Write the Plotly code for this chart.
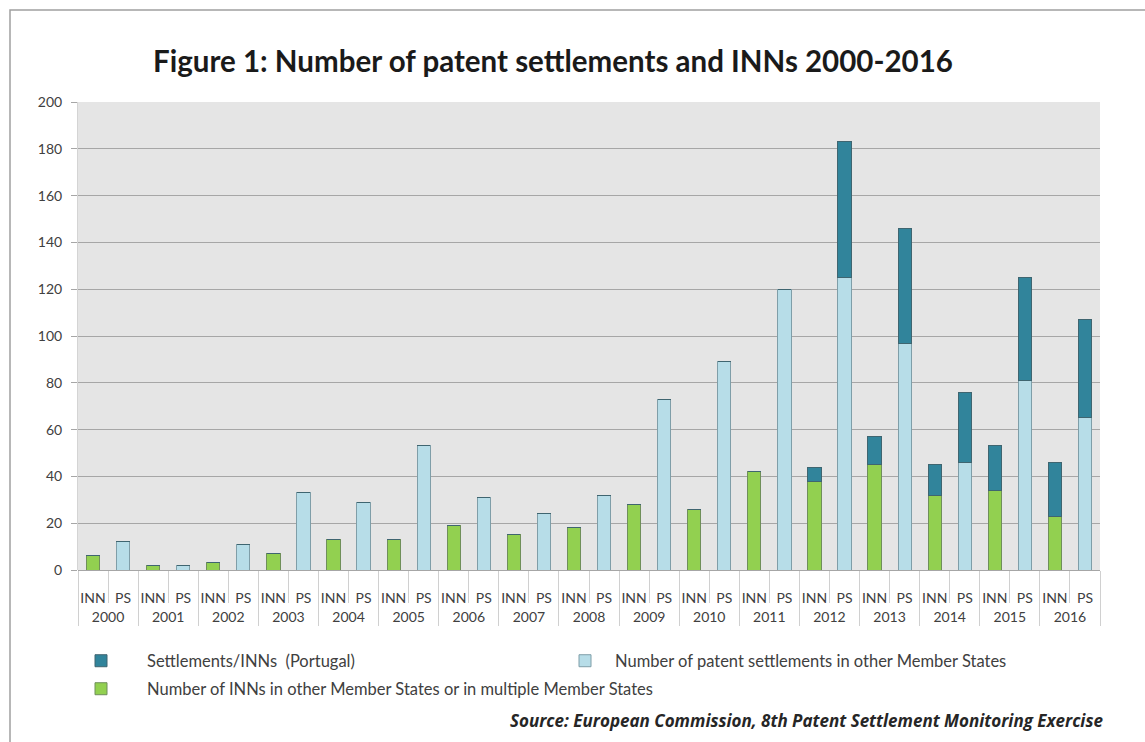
import plotly.graph_objects as go

years = [str(y) for y in range(2000, 2017)]
# leading blank line drops the inner labels below the short boundary ticks
sub_labels = ["\u00a0<br>INN", "\u00a0<br>PS"]

inn_other = [6, 2, 3, 7, 13, 13, 19, 15, 18, 28, 26, 42, 38, 45, 32, 34, 23]
ps_other = [12, 2, 11, 33, 29, 53, 31, 24, 32, 73, 89, 120, 125, 97, 46, 81, 65]
inn_portugal = [0, 0, 0, 0, 0, 0, 0, 0, 0, 0, 0, 0, 6, 12, 13, 19, 23]
ps_portugal = [0, 0, 0, 0, 0, 0, 0, 0, 0, 0, 0, 0, 58, 49, 30, 44, 42]

FONT = "Lato"
TXT = "#404040"

# plot area in pixels
L, R, T, B = 78, 45, 102, 172
W, H = 1145, 742
PW, PH = W - L - R, H - T - B


def px(x):
    return (x - L) / PW


def py(y):
    return (H - B - y) / PH


x_inn = [years, [sub_labels[0]] * len(years)]
x_ps = [years, [sub_labels[1]] * len(years)]
x_all = [[y for y in years for _ in sub_labels], [s for _ in years for s in sub_labels]]
port_all = [v for pair in zip(inn_portugal, ps_portugal) for v in pair]

fig = go.Figure()
fig.add_trace(go.Bar(
    x=x_inn, y=inn_other,
    name="Number of INNs in other Member States or in multiple Member States",
    marker=dict(color="#92D050", line=dict(color="#6f8f5a", width=1)),
    legend="legend3",
))
fig.add_trace(go.Bar(
    x=x_ps, y=ps_other,
    name="Number of patent settlements in other Member States",
    marker=dict(color="#B7DDE8", line=dict(color="#7f9ea8", width=1)),
    legend="legend2",
))
fig.add_trace(go.Bar(
    x=x_all, y=port_all,
    name="Settlements/INNs  (Portugal)",
    marker=dict(color="#31849B", line=dict(color="#3f6570", width=1)),
    legend="legend",
))

leg_font = dict(family=FONT, size=16.5, color=TXT)
leg_common = dict(
    font=leg_font,
    bgcolor="rgba(0,0,0,0)",
    xanchor="left", yanchor="middle",
)

fig.update_layout(
    width=W, height=H,
    margin=dict(l=L, r=R, t=T, b=B),
    paper_bgcolor="white",
    plot_bgcolor="#E5E5E5",
    barmode="stack",
    bargap=0.56,
    title=dict(
        text="<b>Figure 1: Number of patent settlements and INNs 2000-2016</b>",
        font=dict(family=FONT, size=29.5, color="#1a1a1a"),
        x=px(553), xref="paper", xanchor="center",
        y=1 - 62 / H, yref="container", yanchor="middle",
    ),
    showlegend=True,
    legend=dict(x=px(55), y=py(661), itemwidth=82, **leg_common),
    legend2=dict(x=px(555), y=py(661), itemwidth=50, **leg_common),
    legend3=dict(x=px(55), y=py(689), itemwidth=82, **leg_common),
    xaxis=dict(
        type="multicategory",
        showgrid=False,
        tickangle=0,
        tickfont=dict(family=FONT, size=14, color=TXT),
        ticks="outside", tickson="boundaries", ticklen=32,
        tickcolor="#d0d0d0", tickwidth=1,
        showdividers=True, dividercolor="#d0d0d0", dividerwidth=1,
        showline=False,
    ),
    yaxis=dict(
        range=[0, 200], dtick=20, tick0=0,
        showgrid=True, gridcolor="#A6A6A6", gridwidth=1,
        zeroline=True, zerolinecolor="#A6A6A6", zerolinewidth=1,
        ticks="outside", ticklen=6, tickcolor="#A6A6A6",
        ticklabelstandoff=6,
        showline=True, linecolor="#d4d4d4", linewidth=1,
        tickfont=dict(family=FONT, size=14, color=TXT),
    ),
    shapes=[dict(
        type="rect", xref="paper", yref="paper",
        x0=px(10), x1=px(1170), y0=py(770), y1=py(10),
        line=dict(color="#A0A0A0", width=1.5), fillcolor="rgba(0,0,0,0)",
        layer="below",
    )],
    annotations=[dict(
        text="<b><i>Source: European Commission, 8th Patent Settlement Monitoring Exercise</i></b>",
        xref="paper", yref="paper", x=px(1105), y=py(720),
        xanchor="right", yanchor="middle", showarrow=False,
        font=dict(family="Open Sans", size=17, color="#262626"),
    )],
)

fig.write_html("out.html")
